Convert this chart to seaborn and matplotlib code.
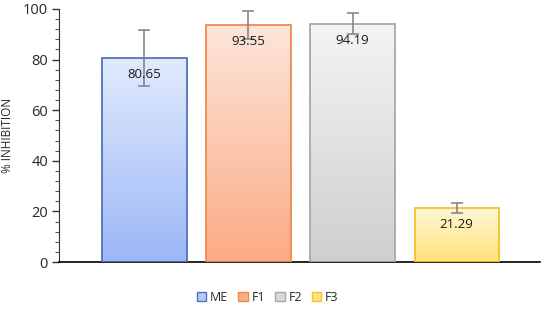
import numpy as np
import pandas as pd
import matplotlib
matplotlib.use("Agg")
import matplotlib.pyplot as plt
from matplotlib.colors import LinearSegmentedColormap
from matplotlib.patches import Patch
import seaborn as sns

categories = ["ME", "F1", "F2", "F3"]
values = [80.65, 93.55, 94.19, 21.29]
errors = [11.0, 5.6, 4.1, 2.0]
labels = ["80.65", "93.55", "94.19", "21.29"]

top_colors = ["#e2ebfd", "#fde6da", "#f4f4f4", "#fff7d6"]
bottom_colors = ["#9cb7f7", "#fbab84", "#cfcfcf", "#ffe277"]
edge_colors = ["#4f74b8", "#ee8a4c", "#a8a8a8", "#f5c230"]
legend_face = ["#b4c9f8", "#f9b08c", "#d9d9d9", "#ffe37a"]

sns.set_style("white")
plt.rcParams["font.family"] = ["Open Sans", "DejaVu Sans"]

df = pd.DataFrame({"cat": categories, "val": values})
fig = plt.figure(figsize=(5.5, 3.13), dpi=100)
ax = fig.add_axes([59/550, 51/313, 481/550, 253/313])

sns.barplot(data=df, x="cat", y="val", ax=ax, width=0.81, color="white",
            errorbar=None, linewidth=1.3)

for i, p in enumerate(ax.patches):
    p.set_edgecolor(edge_colors[i])
    p.set_facecolor("none")
    p.set_zorder(3)
    x0, w = p.get_x(), p.get_width()
    h = p.get_height()
    cmap = LinearSegmentedColormap.from_list("g", [bottom_colors[i], top_colors[i]])
    grad = np.linspace(0, 1, 256).reshape(-1, 1)
    im = ax.imshow(grad, extent=[x0, x0 + w, 0, h], origin="lower", aspect="auto",
                   cmap=cmap, zorder=2)
    im.set_clip_path(p)
    ax.errorbar(p.get_x() + w / 2, values[i], yerr=errors[i], fmt="none",
                ecolor="#7f7f7f", elinewidth=1.1, capsize=4, capthick=1.1, zorder=4)
    ax.text(p.get_x() + w / 2, values[i] - 6.5, labels[i], ha="center", va="center",
            fontsize=9.5, color="#1a1a1a", zorder=5)

ax.set_xlim(-0.82, 3.8)
ax.set_ylim(0, 100)
ax.set_yticks([0, 20, 40, 60, 80, 100])
ax.set_yticks(np.arange(0, 101, 4), minor=True)
ax.tick_params(axis="y", which="major", length=5, width=1, labelsize=10.5, color="#333333",
               direction="out", left=True, pad=3)
ax.tick_params(axis="y", which="minor", length=3, width=0.8, color="#555555", direction="out", left=True)
ax.tick_params(axis="x", bottom=False, labelbottom=False)
ax.set_xlabel("")
ax.set_ylabel("% INHIBITION", fontsize=8.5)
ax.yaxis.set_label_coords(-0.094, 0.5)
for s in ["top", "right"]:
    ax.spines[s].set_visible(False)
ax.spines["left"].set_color("#333333")
ax.spines["bottom"].set_color("black")
ax.spines["bottom"].set_linewidth(1.2)

handles = [Patch(facecolor=legend_face[i], edgecolor=edge_colors[i], label=categories[i])
           for i in range(4)]
fig.legend(handles=handles, loc="center", bbox_to_anchor=(0.487, 0.05), ncol=4,
           frameon=False, fontsize=9, handlelength=0.75, handleheight=0.75,
           handletextpad=0.3, columnspacing=0.8)

fig.savefig("out.png", dpi=100)
